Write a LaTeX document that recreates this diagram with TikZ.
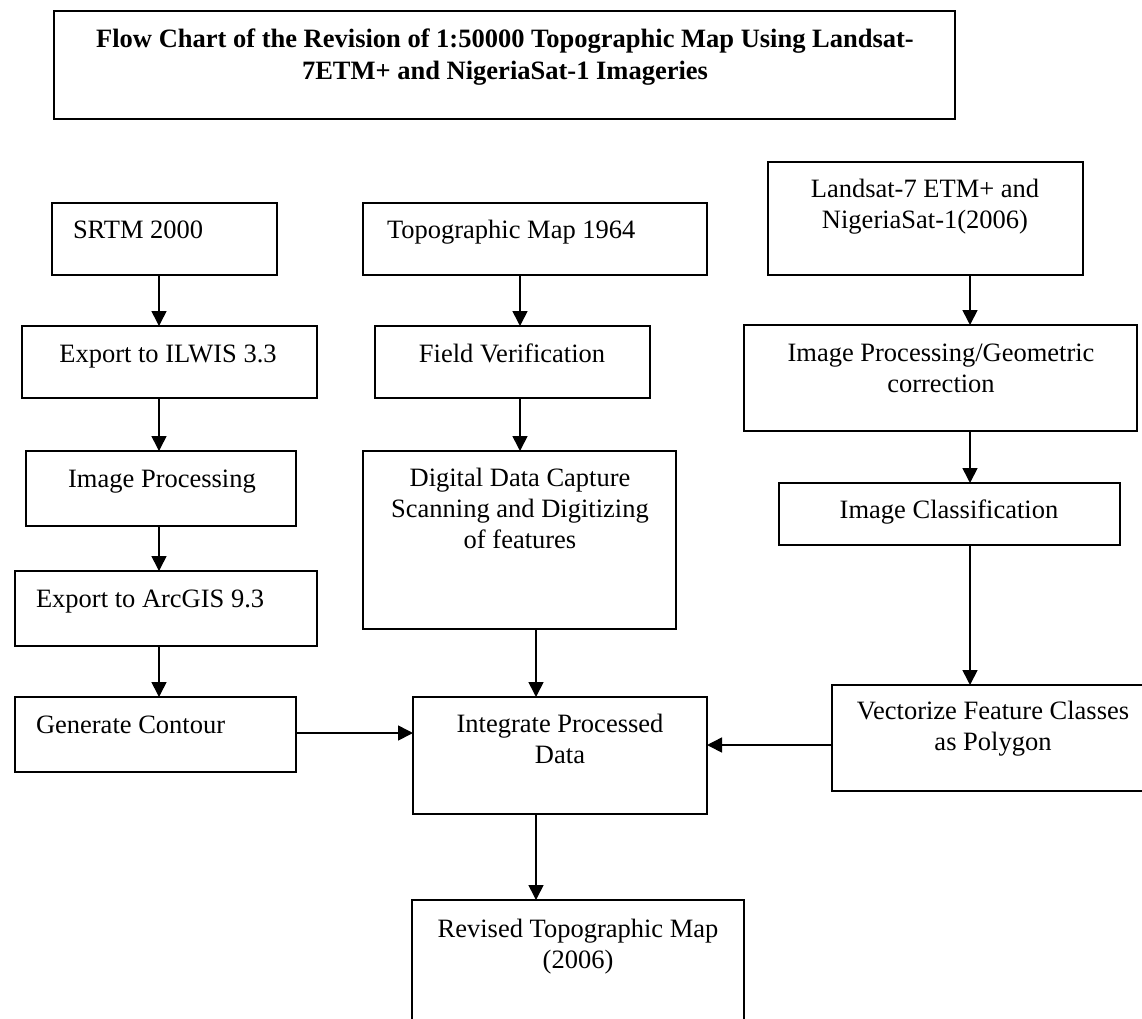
\documentclass[tikz,border=0pt]{standalone}
\usepackage{fontspec}
\setmainfont{Liberation Serif}
\usetikzlibrary{arrows.meta}
\tikzset{
  box/.style={draw=black, line width=1.6pt, inner sep=0pt, outer sep=0pt, fill=none},
  txt/.style={inner sep=0pt, outer sep=0pt, align=center, font=\fontsize{26.5}{31}\selectfont},
  ttl/.style={txt, font=\fontsize{26.5}{32}\selectfont\bfseries},
  arr/.style={line width=1.6pt, -{Triangle[length=15pt,width=15pt]}}
}
\newcommand{\fbx}[5]{\node[box, minimum width={#4-#2}, minimum height={#5-#3}] (#1) at ({(#2+#4)/2},{(#3+#5)/2}) {};}
\begin{document}
\begin{tikzpicture}[x=1pt,y=-1pt]
\clip (0,0) rectangle (1142,1018);
\fill[white] (0,0) rectangle (1142,1018);
% boxes
\fbx{title}{54}{11}{955}{119}
\fbx{srtm}{52}{203}{277}{275}
\fbx{ilwis}{22}{326}{317}{398}
\fbx{imgp}{26}{451}{296}{526}
\fbx{arc}{15}{571}{317}{646}
\fbx{gen}{15}{697}{296}{772}
\fbx{topo}{363}{203}{707}{275}
\fbx{field}{375}{326}{650}{398}
\fbx{digi}{363}{451}{676}{629}
\fbx{integ}{413}{697}{707}{814}
\fbx{rev}{412}{900}{744}{1030}
\fbx{land}{768}{162}{1083}{275}
\fbx{ipgeo}{744}{325}{1137}{431}
\fbx{cls}{779}{483}{1120}{545}
\fbx{vect}{832}{685}{1150}{791}
% texts (anchor=base is the baseline of the last line)
\node[ttl, anchor=base] (ttitle) at (505,79) {Flow Chart of the Revision of 1:50000 Topographic Map Using Landsat-\\7ETM+ and NigeriaSat-1 Imageries};
\node[txt, anchor=base west] (tsrtm) at (73,238) {SRTM 2000};
\node[txt, anchor=base] (tilwis) at (168,362) {Export to ILWIS 3.3};
\node[txt, anchor=base] (timgp) at (162,487) {Image Processing};
\node[txt, anchor=base west] (tarc) at (36,607) {Export to ArcGIS 9.3};
\node[txt, anchor=base west] (tgen) at (36,733) {Generate Contour};
\node[txt, anchor=base west] (ttopo) at (387,238) {Topographic Map 1964};
\node[txt, anchor=base] (tfield) at (512,362) {Field Verification};
\node[txt, anchor=base] (tdigi) at (520,548) {Digital Data Capture\\Scanning and Digitizing\\of features};
\node[txt, anchor=base] (tinteg) at (560,763) {Integrate Processed\\Data};
\node[txt, anchor=base] (trev) at (578,968) {Revised Topographic Map\\(2006)};
\node[txt, anchor=base] (tland) at (925,228) {Landsat-7 ETM+ and\\NigeriaSat-1(2006)};
\node[txt, anchor=base] (tipgeo) at (941,392) {Image Processing/Geometric\\correction};
\node[txt, anchor=base] (tcls) at (949,518) {Image Classification};
\node[txt, anchor=base] (tvect) at (993,750) {Vectorize Feature Classes\\as Polygon};
% connector guide coordinates
\coordinate (cl) at (159,0);
\coordinate (cm) at (520,0);
\coordinate (cd) at (536,0);
\coordinate (cr) at (970,0);
\coordinate (hg) at (0,733);
\coordinate (hv) at (0,745);
% connectors
\draw[arr] (srtm.south -| cl) -- (ilwis.north -| cl);
\draw[arr] (ilwis.south -| cl) -- (imgp.north -| cl);
\draw[arr] (imgp.south -| cl) -- (arc.north -| cl);
\draw[arr] (arc.south -| cl) -- (gen.north -| cl);
\draw[arr] (gen.east |- hg) -- (integ.west |- hg);
\draw[arr] (topo.south -| cm) -- (field.north -| cm);
\draw[arr] (field.south -| cm) -- (digi.north -| cm);
\draw[arr] (digi.south -| cd) -- (integ.north -| cd);
\draw[arr] (integ.south -| cd) -- (rev.north -| cd);
\draw[arr] (land.south -| cr) -- (ipgeo.north -| cr);
\draw[arr] (ipgeo.south -| cr) -- (cls.north -| cr);
\draw[arr] (cls.south -| cr) -- (vect.north -| cr);
\draw[arr] (vect.west |- hv) -- (integ.east |- hv);
\end{tikzpicture}
\end{document}
